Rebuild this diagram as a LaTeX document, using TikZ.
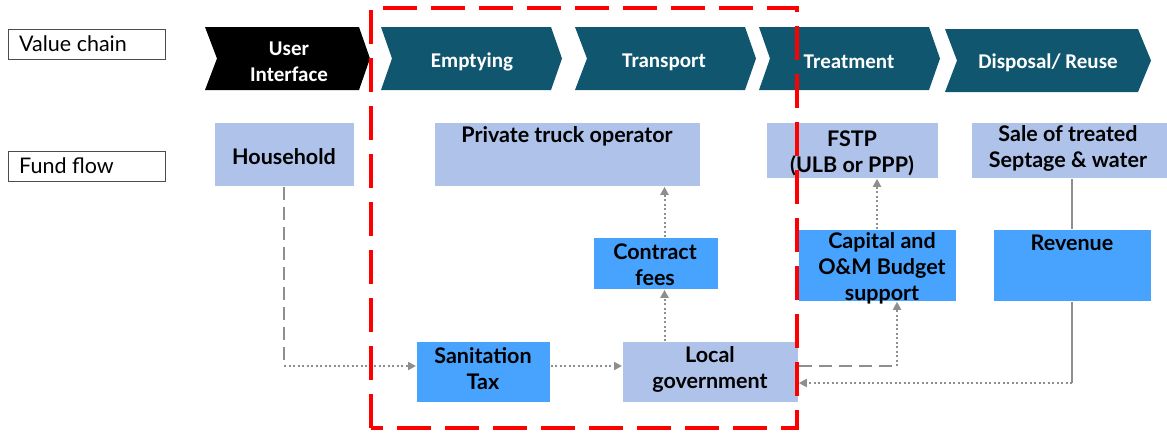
\documentclass[tikz,border=0pt]{standalone}
\usepackage{fontspec}
\setmainfont{Lato}
\newfontfamily\chevfont{Carlito}
\usetikzlibrary{arrows.meta,calc}
\definecolor{teal}{HTML}{10566F}
\definecolor{lightb}{HTML}{AEC2EA}
\definecolor{midb}{HTML}{47A3FE}
\definecolor{gline}{HTML}{8E8E8E}
\definecolor{redd}{HTML}{FF0000}
\tikzset{
  lbox/.style={draw=white, line width=0.8pt, fill=lightb, anchor=north west, inner sep=0pt},
  mbox/.style={draw=white, line width=0.8pt, fill=midb, anchor=north west, inner sep=0pt},
  btxt/.style={font=\bfseries\fontsize{21.5}{26}\selectfont, align=center, text=black, inner sep=0pt},
  ctxt/.style={font=\chevfont\bfseries\fontsize{21}{26}\selectfont, align=center, text=white, inner sep=0pt},
  ltxt/.style={font=\fontsize{21.5}{24}\selectfont, inner sep=0pt, anchor=west},
  legbox/.style={draw=black!70, line width=0.8pt, fill=white, anchor=north west, inner sep=0pt},
  dotline/.style={draw=gline, line width=2pt, dash pattern=on 2pt off 2.5pt},
  dashline/.style={draw=gline, line width=2pt, dash pattern=on 13pt off 7pt},
  solidline/.style={draw=gline, line width=2pt},
  arr/.style={-{Triangle[length=8pt,width=8pt]}},
}
\begin{document}
\begin{tikzpicture}[x=1pt,y=-1pt]
\useasboundingbox (0,0) rectangle (1167,432);
% legend boxes
\node[legbox, minimum width=157, minimum height=30] (vc) at (8,29) {};
\node[ltxt] (vct) at (19,44) {Value chain};
\node[legbox, minimum width=157, minimum height=30] (ff) at (8,151) {};
\node[ltxt] (fft) at (19,166) {Fund flow};
% chevrons
\fill[black] (205,27) -- (359,27) -- (370,58.5) -- (359,90) -- (205,90) -- (217,58.5) -- cycle;
\node[ctxt] (ui) at (289,62) {User\\Interface};
\fill[teal] (381,27) -- (551,27) -- (562,58.5) -- (551,90) -- (381,90) -- (392,58.5) -- cycle;
\node[ctxt] (em) at (472,62) {Emptying};
\fill[teal] (575,27) -- (745,27) -- (756,58.5) -- (745,90) -- (575,90) -- (587,58.5) -- cycle;
\node[ctxt] (tr) at (664,62) {Transport};
\fill[teal] (759,27) -- (929,27) -- (940,58.5) -- (929,90) -- (759,90) -- (770,58.5) -- cycle;
\node[ctxt] (tm) at (849,62) {Treatment};
\fill[teal] (945,29) -- (1138,29) -- (1151,60.5) -- (1138,92) -- (945,92) -- (957,60.5) -- cycle;
\node[ctxt] (dr) at (1048,63) {Disposal/ Reuse};
% boxes
\node[lbox, minimum width=140, minimum height=64] (hh) at (214,122) {};
\node[btxt] (hht) at (284,157) {Household};
\node[lbox, minimum width=266, minimum height=64] (pto) at (434,122) {};
\node[btxt, anchor=base] (ptot) at (567,142) {Private truck operator};
\node[lbox, minimum width=172, minimum height=56] (fstp) at (766,122) {};
\node[btxt] (fstpt) at (852,153) {FSTP\\(ULB or PPP)};
\node[lbox, minimum width=196, minimum height=56] (sale) at (971,122) {};
\node[btxt] (salet) at (1068,148.5) {Sale of treated\\Septage \& water};
\node[mbox, minimum width=125, minimum height=52] (cf) at (593,237) {};
\node[btxt] (cft) at (655,264.5) {Contract\\fees};
\node[mbox, minimum width=158, minimum height=72] (cap) at (798,229) {};
\node[btxt] (capt) at (882,268) {Capital and\\O\&M Budget\\support};
\node[mbox, minimum width=158, minimum height=72] (rev) at (993,229) {};
\node[btxt, anchor=base] (revt) at (1072,250) {Revenue};
\node[mbox, minimum width=134, minimum height=61] (st) at (416,341) {};
\node[btxt] (stt) at (483,369) {Sanitation\\Tax};
\node[lbox, minimum width=176, minimum height=61] (lg) at (622,341) {};
\node[btxt] (lgt) at (710,369) {Local\\government};
% helper coordinates
\coordinate (c1) at (284,366);
\coordinate (xa) at (664.5,0);
\coordinate (c2) at (897,366);
\coordinate (xb) at (877,0);
\coordinate (xc) at (1072,0);
\coordinate (c3) at (1072,383);
% connectors
\draw[dashline] (hh.south -| c1) -- (c1);
\draw[dotline, arr] (c1) -- (c1 -| st.west);
\draw[dotline, arr] (st.east |- c1) -- (lg.west |- c1);
\draw[dotline, arr] (lg.north -| xa) -- (cf.south -| xa);
\draw[dotline, arr] (cf.north -| xa) -- (pto.south -| xa);
\draw[dashline] (lg.east |- c2) -- (c2);
\draw[dotline, arr] (c2) -- (c2 |- cap.south);
\draw[dotline, arr] (cap.north -| xb) -- (fstp.south -| xb);
\draw[solidline] (sale.south -| xc) -- (rev.north -| xc);
\draw[solidline] (rev.south -| xc) -- (c3);
\draw[dotline, arr] (c3) -- (c3 -| lg.east);
% red dashed region
\draw[redd, line width=4pt, dash pattern=on 34pt off 14pt] (371,428) -- (371,8) -- (797,8) -- (797,428) -- cycle;
\end{tikzpicture}
\end{document}
